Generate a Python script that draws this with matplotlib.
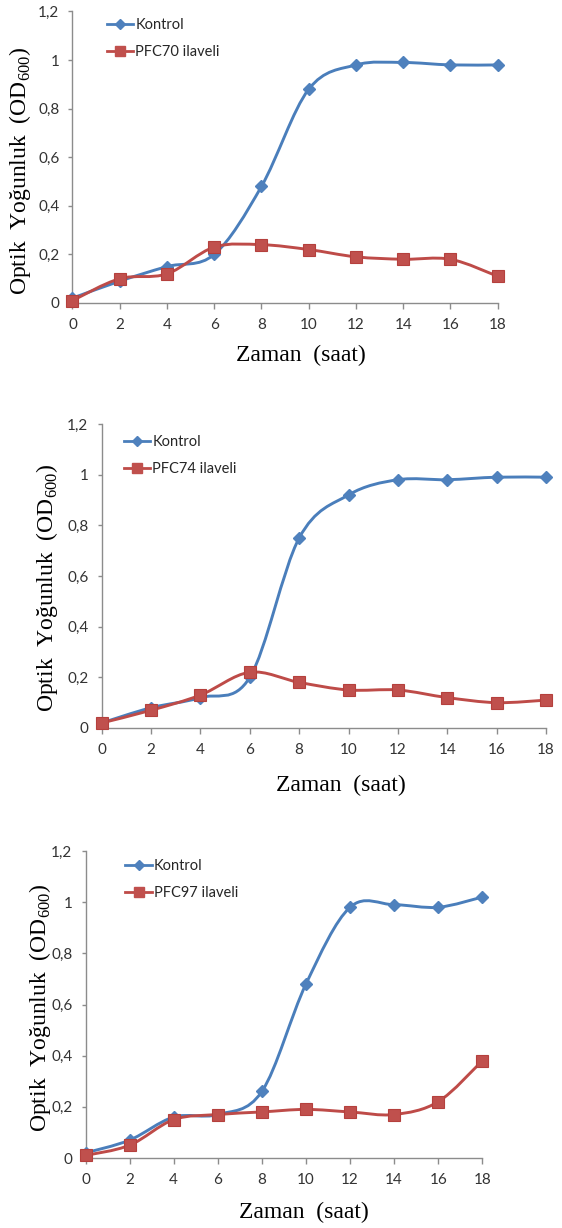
import matplotlib
matplotlib.use("Agg")
import matplotlib.pyplot as plt
from matplotlib.path import Path
from matplotlib.patches import PathPatch
from matplotlib.lines import Line2D
import numpy as np

# ---------------- data ----------------
hours = [0, 2, 4, 6, 8, 10, 12, 14, 16, 18]

kontrol_1 = [0.02, 0.09, 0.15, 0.20, 0.48, 0.88, 0.98, 0.99, 0.98, 0.98]
pfc70 = [0.01, 0.10, 0.12, 0.23, 0.24, 0.22, 0.19, 0.18, 0.18, 0.11]

kontrol_2 = [0.02, 0.08, 0.12, 0.20, 0.75, 0.92, 0.98, 0.98, 0.99, 0.99]
pfc74 = [0.02, 0.07, 0.13, 0.22, 0.18, 0.15, 0.15, 0.12, 0.10, 0.11]

kontrol_3 = [0.02, 0.07, 0.16, 0.17, 0.26, 0.68, 0.98, 0.99, 0.98, 1.02]
pfc97 = [0.01, 0.05, 0.15, 0.17, 0.18, 0.19, 0.18, 0.17, 0.22, 0.38]

series_labels = [("Kontrol", "PFC70 ilaveli"),
                 ("Kontrol", "PFC74 ilaveli"),
                 ("Kontrol", "PFC97 ilaveli")]

y_ticks = [0, 0.2, 0.4, 0.6, 0.8, 1.0, 1.2]
y_tick_labels = ["0", "0,2", "0,4", "0,6", "0,8", "1", "1,2"]
x_ticks = [0, 2, 4, 6, 8, 10, 12, 14, 16, 18]

x_title = "Zaman  (saat)"
y_title = "Optik  Yoğunluk  (OD$_{\\mathregular{600}}$)"

# ---------------- style ----------------
BLUE_LINE = "#4A7EBB"
BLUE_MK = "#4F81BD"
RED_LINE = "#BE4B48"
RED_MK = "#C0504D"
SPINE = "#8C8C8C"
TICK_TXT = "#333333"

plt.rcParams["mathtext.fontset"] = "custom"
plt.rcParams["mathtext.rm"] = "Liberation Serif"

sans = ["Liberation Sans Narrow", "Lato", "DejaVu Sans"]
serif = ["Liberation Serif", "DejaVu Serif"]

fig = plt.figure(figsize=(5.62, 12.28), dpi=100)

# axes rectangles: left, bottom, width, height (figure fraction)
rects = [
    (0.1290, 0.75326, 0.7566, 0.2374),
    (0.18096, 0.40717, 0.7906, 0.24756),
    (0.15214, 0.0570, 0.70605, 0.2500),
]
ylabel_pos = [(-0.1235, 0.453), (-0.1242, 0.4605), (-0.1147, 0.4886)]
xlabel_pos = [(0.5374, -0.180), (0.5386, -0.1875), (0.5507, -0.1759)]
legend_pos = [(0.0811, 0.9777), (0.0502, 0.9638), (0.1006, 0.974)]

panels = [(kontrol_1, pfc70), (kontrol_2, pfc74), (kontrol_3, pfc97)]


def smooth_path(xs, ys):
    """Excel-like smoothed line: cubic Bezier segments through the data points."""
    pts = np.column_stack([xs, ys]).astype(float)
    n = len(pts)
    verts = [pts[0]]
    codes = [Path.MOVETO]
    for i in range(n - 1):
        p0 = pts[i - 1] if i > 0 else pts[i]
        p1 = pts[i]
        p2 = pts[i + 1]
        p3 = pts[i + 2] if i + 2 < n else pts[i + 1]
        c1 = p1 + (p2 - p0) / 6.0
        c2 = p2 - (p3 - p1) / 6.0
        verts += [c1, c2, p2]
        codes += [Path.CURVE4] * 3
    return Path(verts, codes)


for k, (rect, (ctrl, pfc)) in enumerate(zip(rects, panels)):
    ax = fig.add_axes(rect)
    ax.set_xlim(0, 18)
    ax.set_ylim(0, 1.2)

    # smoothed lines
    for vals, col, z in ((ctrl, BLUE_LINE, 2), (pfc, RED_LINE, 4)):
        patch = PathPatch(smooth_path(hours, vals), facecolor="none",
                          edgecolor=col, lw=2.1, zorder=z,
                          transform=ax.transData, clip_on=False,
                          capstyle="round", joinstyle="round")
        ax.add_patch(patch)

    ax.plot(hours, ctrl, linestyle="none", marker="D", ms=6.5,
            color=BLUE_MK, mec=BLUE_MK, zorder=3, clip_on=False)
    ax.plot(hours, pfc, linestyle="none", marker="s", ms=9,
            color=RED_MK, mec="#B5403D", mew=0.8, zorder=5, clip_on=False)

    for s in ("top", "right"):
        ax.spines[s].set_visible(False)
    for s in ("left", "bottom"):
        ax.spines[s].set_color(SPINE)
        ax.spines[s].set_linewidth(1.0)

    ax.set_xticks(x_ticks)
    ax.set_xticklabels([str(v) for v in x_ticks])
    ax.set_yticks(y_ticks)
    ax.set_yticklabels(y_tick_labels)
    ax.tick_params(axis="x", direction="out", length=4, width=1.0,
                   color=SPINE, pad=6.5, labelsize=11, labelcolor=TICK_TXT)
    ax.tick_params(axis="y", direction="out", length=3, width=1.0,
                   color=SPINE, pad=6.5, labelsize=11, labelcolor=TICK_TXT)
    for lab in ax.get_xticklabels() + ax.get_yticklabels():
        lab.set_family(sans)

    ax.set_xlabel(x_title, family=serif, fontsize=17, color="black")
    ax.set_ylabel(y_title, family=serif, fontsize=17, color="black")
    ax.xaxis.set_label_coords(*xlabel_pos[k])
    ax.yaxis.set_label_coords(*ylabel_pos[k])
    ax.xaxis.label.set_va("center")
    ax.yaxis.label.set_va("center")

    handles = [
        Line2D([], [], color=BLUE_LINE, lw=2.0, marker="D", ms=5,
               mfc=BLUE_MK, mec=BLUE_MK),
        Line2D([], [], color=RED_LINE, lw=2.0, marker="s", ms=6.5,
               mfc=RED_MK, mec=RED_MK),
    ]
    leg = ax.legend(handles, series_labels[k], loc="upper left",
                    bbox_to_anchor=legend_pos[k], frameon=False,
                    borderpad=0, borderaxespad=0, handlelength=1.8,
                    handletextpad=0.15, labelspacing=0.9, numpoints=1,
                    prop={"family": sans, "size": 10.5})
    for t in leg.get_texts():
        t.set_color("#262626")

fig.savefig("out.png", dpi=100)
